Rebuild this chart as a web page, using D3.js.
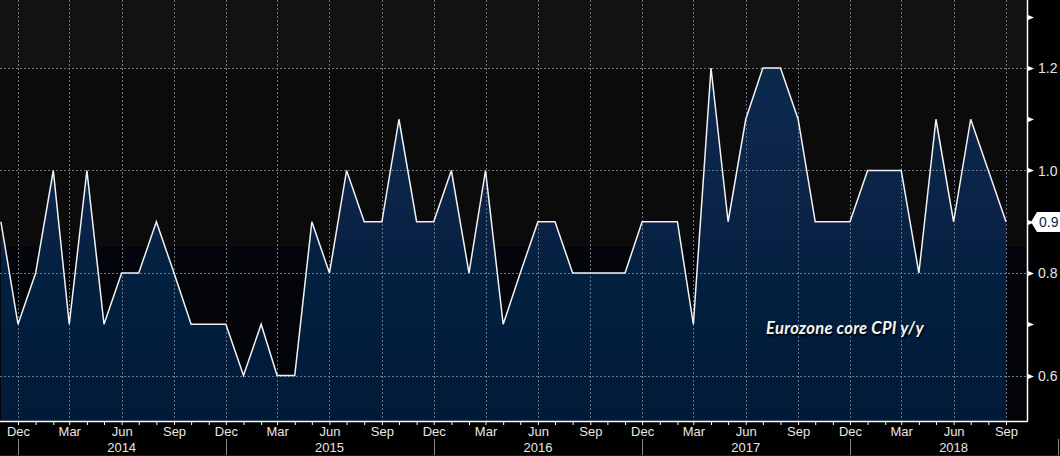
<!DOCTYPE html>
<html><head><meta charset="utf-8">
<script src="https://cdn.jsdelivr.net/npm/d3@7/dist/d3.min.js"></script>
<style>html,body{margin:0;padding:0;background:#000;}svg{display:block;}</style>
</head><body>
<svg id="c" width="1060" height="456"></svg>
<script>
// ---- data ----
const startMonth = "2013-11";
const values = [0.9,0.7,0.8,1.0,0.7,1.0,0.7,0.8,0.8,0.9,0.8,0.7,0.7,0.7,
  0.6,0.7,0.6,0.6,0.9,0.8,1.0,0.9,0.9,1.1,0.9,0.9,
  1.0,0.8,1.0,0.7,0.8,0.9,0.9,0.8,0.8,0.8,0.8,0.9,
  0.9,0.9,0.7,1.2,0.9,1.1,1.2,1.2,1.1,0.9,0.9,0.9,
  1.0,1.0,1.0,0.8,1.1,0.9,1.1,1.0,0.9];
const yTickLabels = [0.6, 0.8, 1.0, 1.2];
const yMinorTicks = [0.6,0.7,0.8,0.9,1.0,1.1,1.2,1.3];
const monthLabels = ["Dec","Mar","Jun","Sep"];
const yearLabels = ["2014","2015","2016","2017","2018"];
const bandBreaks = [1.2, 0.85];
const lastValueLabel = "0.9";
const seriesTitle = "Eurozone core CPI y/y";

// ---- build ----
const parse = d3.timeParse("%Y-%m");
const t0 = parse(startMonth);
const data = values.map((v,i)=>({date:d3.timeMonth.offset(t0,i), v}));

const W=1060,H=456, plotR=1027, plotB=421;
const svg = d3.select("#c");
const x = d3.scaleTime().domain([new Date(2013,11,1), new Date(2018,8,1)]).range([18,1006]);
const y = d3.scaleLinear().domain([0.6,1.2]).range([375.5,68]);

svg.append("rect").attr("width",W).attr("height",H).attr("fill","#000");
// background bands
svg.append("rect").attr("x",0).attr("y",0).attr("width",plotR).attr("height",y(bandBreaks[0])).attr("fill","#121212");
svg.append("rect").attr("x",0).attr("y",y(bandBreaks[0])).attr("width",plotR).attr("height",y(bandBreaks[1])-y(bandBreaks[0])).attr("fill","#0b0b0b");
svg.append("rect").attr("x",0).attr("y",y(bandBreaks[1])).attr("width",plotR).attr("height",plotB-y(bandBreaks[1])).attr("fill","#020409");

const defs = svg.append("defs");
const g = defs.append("linearGradient").attr("id","ag").attr("gradientUnits","userSpaceOnUse")
  .attr("x1",0).attr("y1",y(1.2)).attr("x2",0).attr("y2",plotB);
g.append("stop").attr("offset","0").attr("stop-color","#0c2a4e");
g.append("stop").attr("offset","0.45").attr("stop-color","#0a2246");
g.append("stop").attr("offset","0.6").attr("stop-color","#02203f");
g.append("stop").attr("offset","1").attr("stop-color","#011a38");
defs.append("clipPath").attr("id","pc").append("rect").attr("x",0).attr("y",0).attr("width",plotR).attr("height",plotB);

const plot = svg.append("g").attr("clip-path","url(#pc)");
plot.append("path").datum(data)
  .attr("d", d3.area().x(d=>x(d.date)).y0(plotB).y1(d=>y(d.v)))
  .attr("fill","url(#ag)");

// grid
const quarterTicks = d3.timeMonth.range(new Date(2013,11,1), new Date(2018,9,1), 3);
plot.selectAll(".vg").data(quarterTicks).join("line")
  .attr("x1",d=>Math.round(x(d))+0.5).attr("x2",d=>Math.round(x(d))+0.5).attr("y1",0).attr("y2",plotB)
  .attr("stroke","#6c7684").attr("stroke-width",1).attr("stroke-dasharray","2,2");
plot.selectAll(".hg").data(yTickLabels).join("line")
  .attr("x1",0).attr("x2",plotR).attr("y1",d=>Math.round(y(d))+0.5).attr("y2",d=>Math.round(y(d))+0.5)
  .attr("stroke","#6c7684").attr("stroke-width",1).attr("stroke-dasharray","2,2");

plot.append("path").datum(data)
  .attr("d", d3.line().x(d=>x(d.date)).y(d=>y(d.v)))
  .attr("fill","none").attr("stroke","#f2f2f2").attr("stroke-width",1.5).attr("stroke-linejoin","miter");

// annotation
svg.append("text").attr("x",845).attr("y",334).attr("text-anchor","middle")
  .attr("font-family","Lato, 'Open Sans', sans-serif").attr("font-style","italic").attr("font-weight","bold")
  .attr("font-size",16.5).attr("fill","#f4f4f4").attr("letter-spacing",0.3)
  .style("text-shadow","1px 2px 2px #000")
  .text(seriesTitle);

// axes lines
svg.append("line").attr("x1",0).attr("x2",plotR+0.5).attr("y1",plotB+0.5).attr("y2",plotB+0.5).attr("stroke","#fff").attr("stroke-width",1.5);
svg.append("line").attr("x1",plotR+0.5).attr("x2",plotR+0.5).attr("y1",0).attr("y2",plotB+0.5).attr("stroke","#fff").attr("stroke-width",1.5);

// bottom axis
const xAxis = d3.axisBottom(x).ticks(d3.timeMonth.every(1)).tickSize(4).tickFormat(d=>{
  const m = d.getMonth();
  return [11,2,5,8].includes(m) ? monthLabels[[11,2,5,8].indexOf(m)] : "";
});
const xa = svg.append("g").attr("transform",`translate(0,${plotB})`).call(xAxis);
xa.select(".domain").remove();
xa.selectAll(".tick line").attr("stroke","#fff");
xa.selectAll(".tick text").attr("fill","#e6e6e6").attr("font-family","'Liberation Sans', Arial, sans-serif").attr("font-size",13).attr("dy","0.62em");
xa.selectAll(".tick").filter(d=>x(d)>plotR+1 || x(d)<-1).remove();

// years
const years = yearLabels.map(s=>+s);
svg.selectAll(".yl").data(years).join("text")
  .attr("x",yr=>x(new Date(yr,5,1))).attr("y",452).attr("text-anchor","middle")
  .attr("fill","#e6e6e6").attr("font-family","'Liberation Sans', Arial, sans-serif").attr("font-size",13)
  .text(d=>d);
const seps = d3.timeYear.range(new Date(2013,0,1), new Date(2018,0,2)).map(d=>new Date(d.getFullYear(),11,1));
svg.selectAll(".ys").data(seps).join("line")
  .attr("x1",d=>Math.round(x(d))+0.5).attr("x2",d=>Math.round(x(d))+0.5).attr("y1",439).attr("y2",456)
  .attr("stroke","#8a8a8a").attr("stroke-width",1);
svg.append("line").attr("x1",0).attr("x2",W).attr("y1",455.5).attr("y2",455.5).attr("stroke","#0a1a4a");

// right axis
svg.selectAll(".rt").data(yMinorTicks).join("path")
  .attr("d",d=>{const yy=Math.round(y(d))+0.5; return `M${plotR+1},${yy-2.5}L${plotR+7},${yy}L${plotR+1},${yy+2.5}Z`;})
  .attr("fill","#fff");
svg.selectAll(".rl").data(yTickLabels).join("text")
  .attr("x",plotR+11).attr("y",d=>y(d)).attr("dy","0.36em")
  .attr("fill","#e6e6e6").attr("font-family","'Liberation Sans', Arial, sans-serif").attr("font-size",14)
  .text(d=>d3.format(".1f")(d));

// last value marker
const ly = Math.round(y(values[values.length-1]));
svg.append("path").attr("d",`M${plotR+4},${ly}L${plotR+10},${ly-10}L${W},${ly-10}L${W},${ly+10}L${plotR+10},${ly+10}Z`).attr("fill","#fff");
svg.append("text").attr("x",plotR+12).attr("y",ly).attr("dy","0.36em")
  .attr("fill","#0b1e45").attr("font-family","'Liberation Sans', Arial, sans-serif").attr("font-size",14)
  .text(lastValueLabel);
</script>
</body></html>
